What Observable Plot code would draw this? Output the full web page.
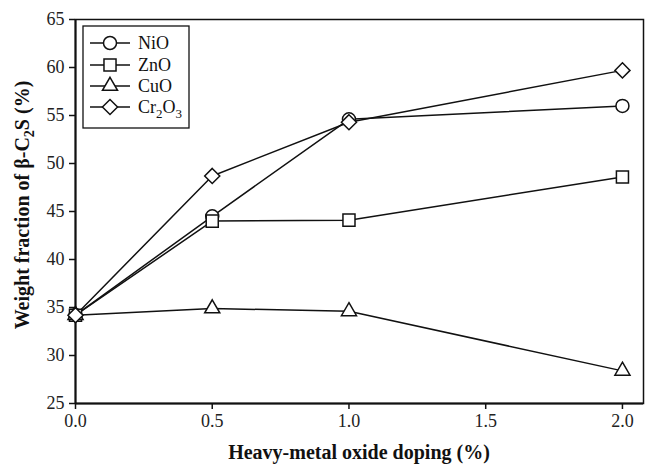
<!DOCTYPE html>
<html><head><meta charset="utf-8">
<script src="https://cdn.jsdelivr.net/npm/d3@7"></script>
<script src="https://cdn.jsdelivr.net/npm/@observablehq/plot@0.6"></script>
<style>body{margin:0;background:#fff} svg text{font-family:'Liberation Serif','Times New Roman',serif !important}</style>
</head><body><div id="chart"></div>
<script>
const doping = [0, 0.5, 1.0, 2.0];
const seriesNames = ["NiO", "ZnO", "CuO", "Cr2O3"];
const niO   = [34.2, 44.5, 54.6, 56.0];
const znO   = [34.2, 44.0, 44.1, 48.6];
const cuO   = [34.2, 34.9, 34.6, 28.4];
const cr2O3 = [34.2, 48.7, 54.3, 59.7];
const xTicks = [0, 0.5, 1.0, 1.5, 2.0];
const yTicks = [25, 30, 35, 40, 45, 50, 55, 60, 65];
const symbolNames = ["circle", "square", "triangle", "diamond2"];
const markerR = [6.5, 6.8, 5.6, 6.8];

const valuesBySeries = [niO, znO, cuO, cr2O3];
const data = [];
seriesNames.forEach((s, i) => doping.forEach((d, j) => data.push({series: s, x: d, y: valuesBySeries[i][j]})));

const font = "'Liberation Serif', 'Times New Roman', serif";
const ink = "#111";
const chart = Plot.plot({
  width: 649, height: 464,
  marginLeft: 75, marginRight: 6, marginTop: 19, marginBottom: 61,
  style: {fontFamily: font, fontSize: "18px", color: ink, background: "#fff"},
  x: {domain: [0, 2.077]},
  y: {domain: [25, 65]},
  symbol: {domain: seriesNames, range: symbolNames},
  marks: [
    Plot.frame({stroke: ink, strokeWidth: 1.5}),
    Plot.ruleX([0], {stroke: ink, strokeWidth: 2}),
    Plot.ruleY([25], {stroke: ink, strokeWidth: 2}),
    Plot.axisX({ticks: xTicks, tickFormat: d3.format(".1f"), tickSize: 6, tickPadding: 5, label: null, fontSize: 18, fontFamily: font, strokeWidth: 1.5, fill: "#222"}),
    Plot.axisY({ticks: yTicks, tickSize: 6, tickPadding: 5, label: null, fontSize: 18, fontFamily: font, strokeWidth: 1.5, fill: "#222"}),
    Plot.line(data, {x: "x", y: "y", z: "series", stroke: ink, strokeWidth: 1.5}),
    ...seriesNames.map((s, i) => Plot.dot(data.filter(d => d.series === s), {x: "x", y: "y", symbol: "series", r: markerR[i], fill: "#fff", stroke: ink, strokeWidth: 1.5}))
  ]
});
document.getElementById("chart").appendChild(chart);

const svg = d3.select(chart);
// axis titles
const yl = svg.append("text").attr("transform", "translate(29,205) rotate(-90)")
  .attr("text-anchor", "middle").attr("font-family", font).attr("font-weight", "bold")
  .attr("font-size", 20).attr("fill", ink);
yl.append("tspan").text("Weight fraction of β-C");
yl.append("tspan").attr("font-size", 14).attr("dy", 5).text("2");
yl.append("tspan").attr("dy", -5).text("S (%)");
svg.append("text").attr("x", 359).attr("y", 459).attr("text-anchor", "middle")
  .attr("font-family", font).attr("font-weight", "bold").attr("font-size", 20).attr("fill", ink)
  .text("Heavy-metal oxide doping (%)");

// legend
const lg = svg.append("g");
lg.append("rect").attr("x", 83).attr("y", 26).attr("width", 106).attr("height", 102)
  .attr("fill", "#fff").attr("stroke", ink).attr("stroke-width", 1.3);
const legendY = [43, 65, 86, 107];
const legendSyms = [d3.symbolCircle, d3.symbolSquare, d3.symbolTriangle, d3.symbolDiamond2];
seriesNames.forEach((s, i) => {
  const y = legendY[i];
  lg.append("line").attr("x1", 90).attr("x2", 130).attr("y1", y).attr("y2", y).attr("stroke", ink).attr("stroke-width", 1.5);
  const sym = d3.symbol(legendSyms[i], Math.PI * markerR[i] * markerR[i]);
  lg.append("path").attr("d", sym()).attr("transform", `translate(110,${y})`).attr("fill", "#fff").attr("stroke", ink).attr("stroke-width", 1.5);
  const t = lg.append("text").attr("x", 138).attr("y", y + 6).attr("text-anchor", "start")
    .attr("font-family", font).attr("font-size", 18).attr("fill", ink);
  if (s === "Cr2O3") {
    t.append("tspan").text("Cr");
    t.append("tspan").attr("font-size", 13).attr("dy", 5).text("2");
    t.append("tspan").attr("dy", -5).text("O");
    t.append("tspan").attr("font-size", 13).attr("dy", 5).text("3");
  } else t.text(s);
});
</script>
</body></html>
